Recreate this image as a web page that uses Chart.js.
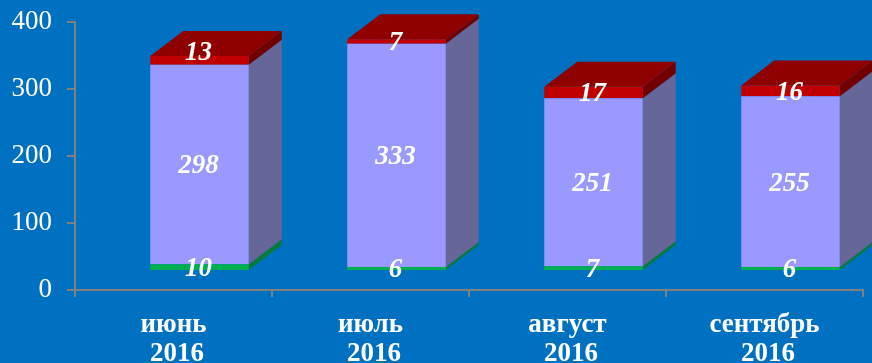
<!DOCTYPE html>
<html>
<head>
<meta charset="utf-8">
<title>chart</title>
<script src="https://cdn.jsdelivr.net/npm/chart.js@4"></script>
<style>
  html, body { margin: 0; padding: 0; background: #0070C0; overflow: hidden; }
  canvas { display: block; }
</style>
</head>
<body>
<canvas id="myChart" width="872" height="363"></canvas>
<script>
// the year has a leading space in the original, it sits a bit right of the month
const months = [['июнь', '\u00A02016'], ['июль', '\u00A02016'], ['август', '\u00A02016'], ['сентябрь', '\u00A02016']];
const greenValues = [10, 6, 7, 6];
const purpleValues = [298, 333, 251, 255];
const redValues = [13, 7, 17, 16];
const yTicks = [0, 100, 200, 300, 400];

// fake 3d: front of the bars sits shifted from the axis, depth goes up and right
const shiftX = 26;
const shiftY = -19;
const depthX = 33;
const depthY = 25;
const sideColors = ['#067A3C', '#666699', '#720000'];
const topColor = '#8F0000';

const bars3d = {
  id: 'bars3d',
  beforeDatasetsDraw(chart) {
    const c = chart.ctx;
    c.save();
    c.translate(shiftX, shiftY);
    chart.data.datasets.forEach((ds, i) => {
      chart.getDatasetMeta(i).data.forEach((bar) => {
        const right = bar.x + bar.width / 2;
        c.fillStyle = sideColors[i];
        c.beginPath();
        c.moveTo(right, bar.y);
        c.lineTo(right + depthX, bar.y - depthY);
        c.lineTo(right + depthX, bar.base - depthY);
        c.lineTo(right, bar.base);
        c.closePath();
        c.fill();
        if (i === chart.data.datasets.length - 1) {
          const left = bar.x - bar.width / 2;
          c.fillStyle = topColor;
          c.beginPath();
          c.moveTo(left, bar.y);
          c.lineTo(left + depthX, bar.y - depthY);
          c.lineTo(right + depthX, bar.y - depthY);
          c.lineTo(right, bar.y);
          c.closePath();
          c.fill();
        }
      });
    });
  },
  afterDatasetsDraw(chart) {
    const c = chart.ctx;
    c.font = 'italic bold 27px "Liberation Serif"';
    c.fillStyle = '#FFFFFF';
    c.textAlign = 'center';
    c.textBaseline = 'middle';
    chart.data.datasets.forEach((ds, i) => {
      chart.getDatasetMeta(i).data.forEach((bar, j) => {
        // the 13 label was moved up onto the top face in the original
        const nudge = (i === 2 && j === 0) ? -7 : 2;
        c.fillText(String(ds.data[j]), bar.x - 1, (bar.y + bar.base) / 2 + nudge);
      });
    });
    c.restore();
  },
};

new Chart(document.getElementById('myChart'), {
  type: 'bar',
  data: {
    labels: months,
    datasets: [
      { data: greenValues, backgroundColor: '#00B050' },
      { data: purpleValues, backgroundColor: '#9999FF' },
      { data: redValues, backgroundColor: '#C00000' },
    ],
  },
  options: {
    responsive: false,
    animation: false,
    events: [],
    layout: { padding: { left: 0, right: 9, top: 22, bottom: 0 } },
    datasets: { bar: { barPercentage: 0.5, categoryPercentage: 1, clip: false } },
    plugins: { legend: { display: false }, tooltip: { enabled: false } },
    scales: {
      x: {
        stacked: true,
        afterFit(scale) { scale.height = 73; },
        border: { color: '#808080', width: 2 },
        grid: { drawOnChartArea: false, color: '#808080', lineWidth: 2, tickLength: 7 },
        ticks: {
          color: '#FFFFFF',
          font: { family: '"Liberation Serif"', size: 27, weight: 'bold', lineHeight: 1.07 },
          padding: 14,
          maxRotation: 0,
        },
      },
      y: {
        stacked: true,
        min: 0,
        max: 400,
        afterFit(scale) {
          scale.width = 75;
          // otherwise half of the tick label height is added above the plot
          scale.paddingTop = 0;
          scale.paddingBottom = 0;
        },
        afterBuildTicks(scale) { scale.ticks = yTicks.map((value) => ({ value })); },
        border: { color: '#808080', width: 2 },
        grid: { drawOnChartArea: false, color: '#808080', lineWidth: 2, tickLength: 8 },
        ticks: {
          color: '#FFFFFF',
          font: { family: '"Liberation Serif"', size: 27 },
          padding: 15,
        },
      },
    },
  },
  plugins: [bars3d],
});
</script>
</body>
</html>
